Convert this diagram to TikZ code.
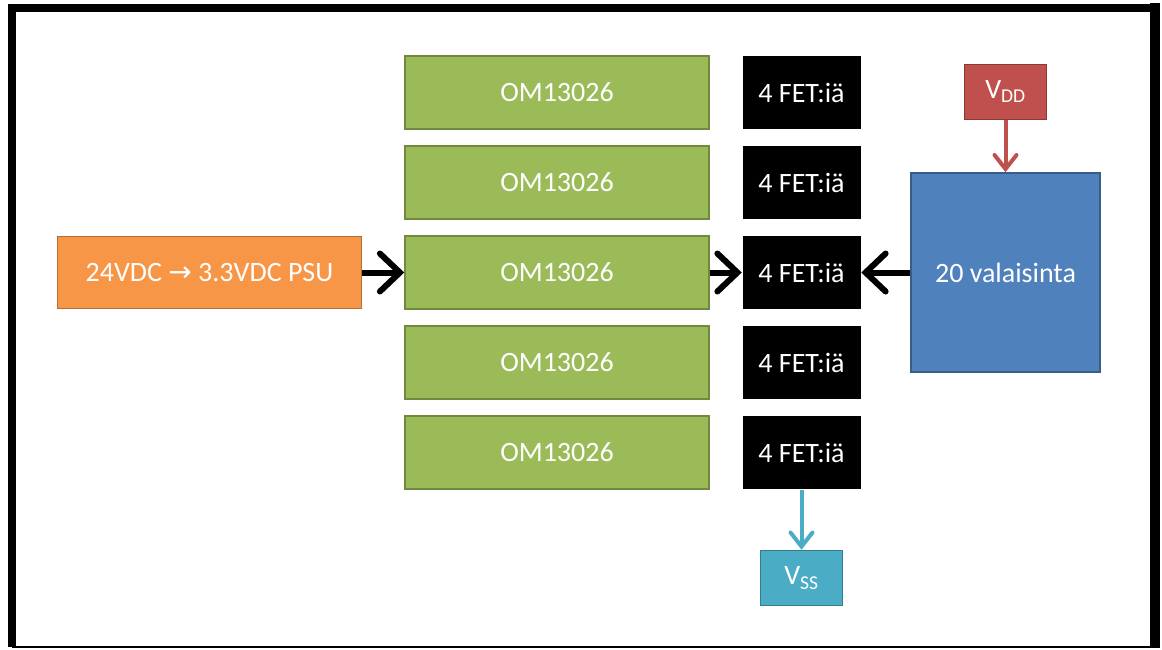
\documentclass[tikz,border=0pt]{standalone}
\usepackage{fontspec}
\setmainfont{Carlito}
\newfontfamily\arrowfont{DejaVu Sans}
\usepackage{tikz}
\usetikzlibrary{arrows.meta, positioning}
\definecolor{psuorange}{HTML}{F79646}
\definecolor{psuborder}{HTML}{B66D31}
\definecolor{omgreen}{HTML}{9BBB59}
\definecolor{omborder}{HTML}{71893F}
\definecolor{lampblue}{HTML}{4F81BD}
\definecolor{lampborder}{HTML}{385D8A}
\definecolor{vddred}{HTML}{C0504D}
\definecolor{vddborder}{HTML}{8C3836}
\definecolor{vsscyan}{HTML}{4BACC6}
\definecolor{vssborder}{HTML}{357D91}

\begin{document}
\begin{tikzpicture}[
    x=1pt, y=-1pt,
    every node/.style={font=\fontsize{28}{32}\selectfont},
    block/.style={
        rectangle,
        line width=1.5pt,
        inner sep=0pt,
        text=white,
        align=center
    },
    psubox/.style={block, draw=psuborder, fill=psuorange, minimum width=304pt, minimum height=72pt},
    ombox/.style={block, draw=omborder, fill=omgreen, minimum width=304pt, minimum height=73pt},
    fetbox/.style={block, fill=black, minimum width=118pt, minimum height=73pt},
    lampbox/.style={block, draw=lampborder, fill=lampblue, minimum width=189pt, minimum height=199pt},
    railbox/.style={block, minimum width=82pt, minimum height=55pt},
    arrow/.style={
        line width=6pt,
        -{Straight Barb[length=20pt, width=38pt, line cap=round]},
        draw=black
    },
    railarrow/.style={
        line width=4pt,
        -{Straight Barb[length=14pt, width=22pt, line cap=round]}
    }
]
\useasboundingbox (0,0) rectangle (1162,649);

% ==================== FRAME ====================
\draw[line width=8pt] (12,647) -- (12,8) -- (1155,8);
\draw[line width=10pt] (1150,8) -- (1155,8) -- (1155,647);
\draw[line width=1.5pt] (12,647) -- (1160,647);

% ==================== CONTROLLERS ====================
\node (om1) [ombox] at (557,92.5) {OM13026};
\node (om2) [ombox, below=15.5pt of om1] {OM13026};
\node (om3) [ombox, below=15.5pt of om2] {OM13026};
\node (om4) [ombox, below=15.5pt of om3] {OM13026};
\node (om5) [ombox, below=15.5pt of om4] {OM13026};

\node (psu) [psubox, left=42pt of om3] {24VDC {\arrowfont →} 3.3VDC PSU};

% ==================== FETS ====================
\node (fet1) [fetbox, right=32pt of om1] {4 FET:iä};
\node (fet2) [fetbox, right=32pt of om2] {4 FET:iä};
\node (fet3) [fetbox, right=32pt of om3] {4 FET:iä};
\node (fet4) [fetbox, right=32pt of om4] {4 FET:iä};
\node (fet5) [fetbox, right=32pt of om5] {4 FET:iä};

% ==================== LIGHTS AND RAILS ====================
\node (lamps) [lampbox, right=49pt of fet3] {20 valaisinta};
\node (vdd) [railbox, draw=vddborder, fill=vddred, above=52pt of lamps] {V\textsubscript{DD}};
\node (vss) [railbox, draw=vssborder, fill=vsscyan, below=60pt of fet5] {V\textsubscript{SS}};

% Connections
\draw [arrow] (psu) -- (om3);
\draw [arrow] (om3) -- (fet3);
\draw [arrow] (lamps) -- (fet3);
\draw [railarrow, draw=vddred] (vdd) -- (lamps);
\draw [railarrow, draw=vsscyan] (fet5) -- (vss);

\end{tikzpicture}
\end{document}
